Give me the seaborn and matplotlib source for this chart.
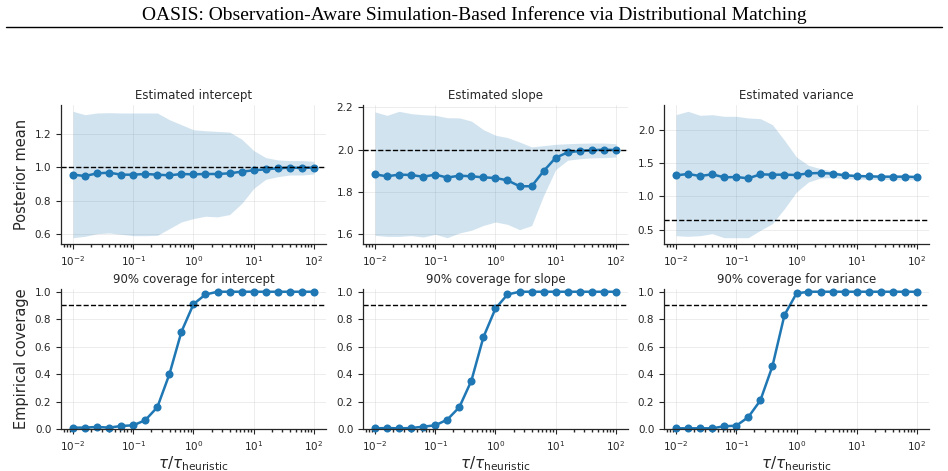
import numpy as np
import pandas as pd
import matplotlib
matplotlib.use("Agg")
import matplotlib.pyplot as plt
import seaborn as sns

# tau / tau_heuristic grid (5 points per decade)
tau_ratio = [0.01, 0.0158, 0.0251, 0.0398, 0.0631, 0.1, 0.158, 0.251, 0.398, 0.631,
             1.0, 1.58, 2.51, 3.98, 6.31, 10.0, 15.8, 25.1, 39.8, 63.1, 100.0]

params = ['intercept', 'slope', 'variance']
true_values = [1.0, 2.0, 0.64]
nominal_coverage = 0.9

# posterior means and 90% bands
intercept_mean = [0.956, 0.948, 0.964, 0.968, 0.956, 0.956, 0.960, 0.956, 0.952, 0.960, 0.958,
                  0.960, 0.960, 0.964, 0.974, 0.982, 0.988, 0.994, 0.998, 0.996, 0.998]
intercept_upper = [1.334, 1.314, 1.324, 1.326, 1.324, 1.324, 1.324, 1.324, 1.284, 1.254, 1.224,
                   1.218, 1.214, 1.210, 1.168, 1.100, 1.058, 1.044, 1.040, 1.040, 1.036]
intercept_lower = [0.580, 0.588, 0.604, 0.608, 0.600, 0.592, 0.592, 0.594, 0.634, 0.674, 0.694,
                   0.708, 0.704, 0.718, 0.784, 0.874, 0.928, 0.944, 0.954, 0.954, 0.960]

slope_mean = [1.883, 1.874, 1.882, 1.880, 1.872, 1.882, 1.868, 1.877, 1.874, 1.869, 1.866,
              1.855, 1.827, 1.827, 1.899, 1.962, 1.987, 1.994, 1.997, 2.000, 1.998]
slope_upper = [2.178, 2.162, 2.181, 2.170, 2.165, 2.162, 2.151, 2.150, 2.135, 2.094, 2.068,
               2.057, 2.036, 2.013, 2.019, 2.025, 2.028, 2.030, 2.031, 2.031, 2.028]
slope_lower = [1.595, 1.590, 1.590, 1.594, 1.587, 1.600, 1.584, 1.606, 1.619, 1.642, 1.658,
               1.647, 1.622, 1.641, 1.784, 1.906, 1.950, 1.957, 1.961, 1.962, 1.965]

variance_mean = [1.315, 1.335, 1.305, 1.330, 1.285, 1.290, 1.270, 1.330, 1.325, 1.325, 1.320,
                 1.345, 1.350, 1.340, 1.315, 1.305, 1.300, 1.295, 1.295, 1.295, 1.290]
variance_upper = [2.225, 2.275, 2.215, 2.225, 2.200, 2.200, 2.175, 2.165, 2.075, 1.840, 1.590,
                  1.465, 1.415, 1.380, 1.340, 1.325, 1.320, 1.315, 1.315, 1.315, 1.310]
variance_lower = [0.410, 0.400, 0.410, 0.440, 0.380, 0.380, 0.380, 0.490, 0.590, 0.815, 1.065,
                  1.215, 1.275, 1.280, 1.265, 1.260, 1.255, 1.255, 1.250, 1.250, 1.250]

# empirical 90% coverage
intercept_cov = [0.010, 0.010, 0.015, 0.010, 0.022, 0.027, 0.064, 0.159, 0.399, 0.709, 0.910,
                 0.980, 1.0, 1.0, 1.0, 1.0, 1.0, 1.0, 1.0, 1.0, 1.0]
slope_cov = [0.005, 0.007, 0.005, 0.007, 0.017, 0.027, 0.068, 0.159, 0.352, 0.670, 0.878,
             0.980, 1.0, 1.0, 1.0, 1.0, 1.0, 1.0, 1.0, 1.0, 1.0]
variance_cov = [0.005, 0.005, 0.005, 0.005, 0.020, 0.024, 0.086, 0.208, 0.457, 0.830, 0.988,
                1.0, 1.0, 1.0, 1.0, 1.0, 1.0, 1.0, 1.0, 1.0, 1.0]

means = [intercept_mean, slope_mean, variance_mean]
uppers = [intercept_upper, slope_upper, variance_upper]
lowers = [intercept_lower, slope_lower, variance_lower]
covs = [intercept_cov, slope_cov, variance_cov]

sns.set_theme(style="ticks")
plt.rcParams['font.family'] = ['DejaVu Sans']
plt.rcParams['xtick.major.size'] = 3.5
plt.rcParams['ytick.major.size'] = 3.5
plt.rcParams['xtick.minor.size'] = 2
plt.rcParams['xtick.major.width'] = 0.8
plt.rcParams['ytick.major.width'] = 0.8
plt.rcParams['axes.linewidth'] = 0.9

W, H = 948, 471
fig = plt.figure(figsize=(W / 100, H / 100), dpi=100)

# page header
fig.text(0.5, 1 - 15 / H, 'OASIS: Observation-Aware Simulation-Based Inference via Distributional Matching',
         ha='center', va='center', fontsize=14, family='Liberation Serif', color='black')
fig.add_artist(plt.Line2D([6 / W, 942 / W], [1 - 27 / H, 1 - 27 / H], color='black', lw=1.0))

lefts = [61, 363, 664]
aw = 265
color = '#1f77b4'

for i, p in enumerate(params):
    # top row: posterior mean
    ax = fig.add_axes([lefts[i] / W, 1 - 244 / H, aw / W, 139 / H])
    df = pd.DataFrame({'tau': tau_ratio, 'mean': means[i]})
    ax.fill_between(tau_ratio, lowers[i], uppers[i], color=color, alpha=0.2, lw=0)
    sns.lineplot(data=df, x='tau', y='mean', ax=ax, color=color, marker='o',
                 markersize=5.8, markeredgewidth=0, lw=1.8)
    ax.axhline(true_values[i], color='black', ls='--', lw=1.0)
    ax.set_xscale('log')
    ax.set_title(f'Estimated {p}', fontsize=8.5, pad=4)
    ax.set_xlabel('')
    ax.set_ylabel('Posterior mean' if i == 0 else '', fontsize=10.5)
    ax.grid(True, alpha=0.35, lw=0.7)
    ax.tick_params(labelsize=7.5)
    sns.despine(ax=ax)

    # bottom row: coverage
    ax = fig.add_axes([lefts[i] / W, 1 - 429 / H, aw / W, 140 / H])
    df = pd.DataFrame({'tau': tau_ratio, 'cov': covs[i]})
    sns.lineplot(data=df, x='tau', y='cov', ax=ax, color=color, marker='o',
                 markersize=5.8, markeredgewidth=0, lw=1.8, clip_on=False)
    ax.axhline(nominal_coverage, color='black', ls='--', lw=1.0)
    ax.set_xscale('log')
    ax.set_ylim(0, 1.02)
    ax.set_title(f'90% coverage for {p}', fontsize=8.5, pad=4)
    ax.set_xlabel(r'$\tau/\tau_{\rm heuristic}$', fontsize=11, labelpad=1)
    ax.set_ylabel('Empirical coverage' if i == 0 else '', fontsize=10.5)
    ax.grid(True, alpha=0.35, lw=0.7)
    ax.tick_params(labelsize=7.5)
    sns.despine(ax=ax)

fig.savefig('out.png', dpi=100)
